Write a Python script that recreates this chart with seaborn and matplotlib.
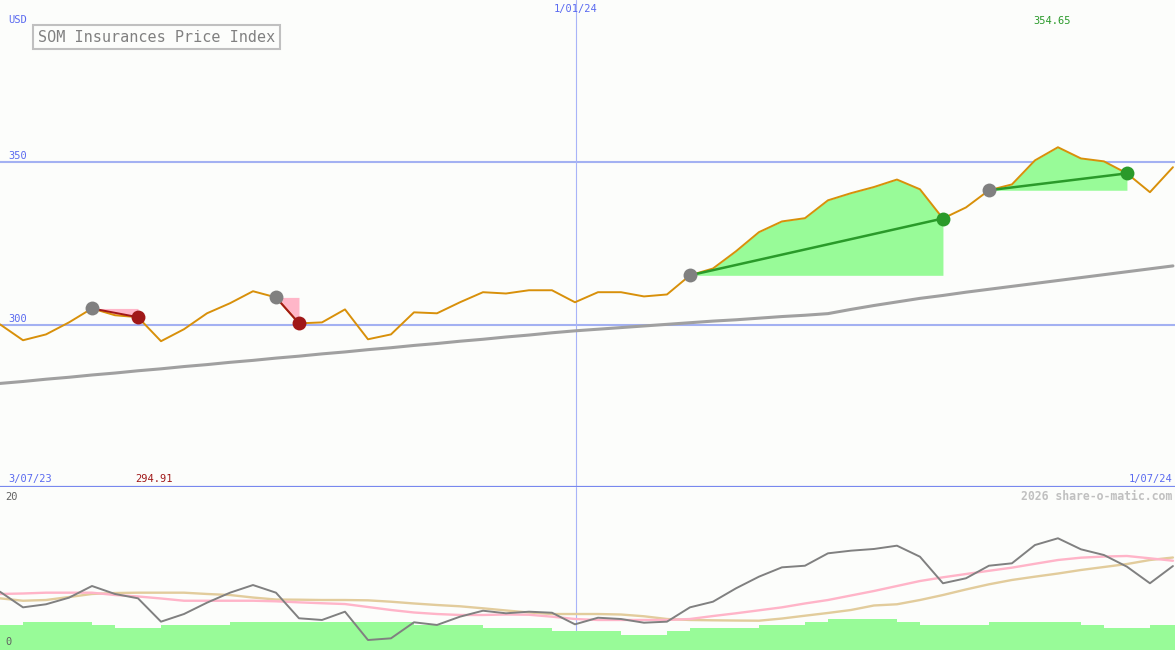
import numpy as np
import matplotlib
matplotlib.use("Agg")
import matplotlib.pyplot as plt
import seaborn as sns

# weekly closes, 3/07/23 .. 1/07/24
price = [300.1, 295.2, 297.0, 300.7, 305.0, 302.9, 302.3, 294.91, 298.6, 303.5,
         306.6, 310.3, 308.4, 300.4, 300.7, 304.7, 295.5, 297.0, 303.8, 303.5,
         306.9, 310.0, 309.6, 310.6, 310.6, 306.9, 310.0, 310.0, 308.7, 309.3,
         315.2, 317.3, 322.6, 328.5, 331.8, 332.8, 338.3, 340.5, 342.4, 344.7,
         341.7, 332.7, 336.1, 341.4, 343.2, 350.6, 354.65, 351.2, 350.3, 346.6,
         340.8, 348.5]

# long moving average (grey)
trend = [281.9, 282.5, 283.2, 283.8, 284.5, 285.1, 285.8, 286.4, 287.1, 287.7,
         288.4, 289.0, 289.7, 290.3, 291.0, 291.6, 292.3, 292.9, 293.6, 294.2,
         294.9, 295.5, 296.2, 296.8, 297.5, 298.1, 298.6, 299.1, 299.6, 300.1,
         300.6, 301.1, 301.5, 302.0, 302.5, 302.9, 303.4, 304.7, 305.9, 307.0,
         308.1, 309.0, 310.0, 310.9, 311.8, 312.7, 313.6, 314.5, 315.4, 316.3,
         317.2, 318.1]

# lower panel indicators
osc = [7.24, 5.30, 5.68, 6.50, 7.95, 6.96, 6.42, 3.52, 4.47, 5.88,
       7.12, 8.07, 7.12, 3.94, 3.73, 4.76, 1.24, 1.45, 3.44, 3.11,
       4.14, 4.88, 4.56, 4.76, 4.63, 3.19, 4.01, 3.85, 3.39, 3.52,
       5.30, 6.00, 7.66, 9.11, 10.27, 10.47, 12.01, 12.34, 12.55, 12.96,
       11.59, 8.29, 8.91, 10.47, 10.77, 13.04, 13.88, 12.51, 11.80, 10.35,
       8.29, 10.43]
osc_pink = [6.96, 7.02, 7.12, 7.12, 7.12, 6.83, 6.65, 6.40, 6.12, 6.12,
            6.12, 6.12, 6.05, 5.92, 5.81, 5.71, 5.34, 4.97, 4.66, 4.47,
            4.35, 4.35, 4.41, 4.38, 4.14, 3.85, 3.73, 3.73, 3.73, 3.73,
            3.85, 4.22, 4.56, 4.93, 5.30, 5.78, 6.21, 6.77, 7.33, 7.95,
            8.57, 9.03, 9.44, 9.84, 10.23, 10.71, 11.18, 11.47, 11.61, 11.68,
            11.39, 11.09]
osc_tan = [6.42, 6.12, 6.21, 6.58, 6.96, 7.08, 7.12, 7.12, 7.12, 6.96,
           6.83, 6.52, 6.27, 6.25, 6.21, 6.21, 6.17, 6.00, 5.78, 5.59,
           5.43, 5.18, 4.91, 4.66, 4.47, 4.47, 4.47, 4.41, 4.19, 3.85,
           3.73, 3.69, 3.66, 3.64, 3.91, 4.26, 4.60, 4.97, 5.53, 5.68,
           6.21, 6.83, 7.52, 8.16, 8.70, 9.11, 9.50, 9.94, 10.31, 10.68,
           11.18, 11.49]
vol = [3.11, 3.52, 3.52, 3.52, 3.11, 2.77, 2.77, 3.11, 3.11, 3.11,
       3.52, 3.52, 3.52, 3.52, 3.52, 3.52, 3.52, 3.52, 3.11, 3.11,
       3.11, 2.77, 2.77, 2.77, 2.36, 2.36, 2.36, 1.86, 1.86, 2.36,
       2.77, 2.77, 2.77, 3.11, 3.11, 3.52, 3.85, 3.85, 3.85, 3.52,
       3.11, 3.11, 3.11, 3.52, 3.52, 3.52, 3.52, 3.11, 2.77, 2.77,
       3.11, 3.11]

# (start week, end week, direction)
signals = [(4, 6, "down"), (12, 13, "down"), (30, 41, "up"), (43, 49, "up")]
new_year_week = 25.04
x_span = 51.09

weeks = np.arange(len(price))

W, H = 1175, 650
BG = "#FCFDFB"
BLUE = "#5A6AF0"
GRID = "#A3B1F2"
ORANGE = "#D8900A"
GREEN = "#2A9A2A"
RED = "#A01818"

sns.set_theme(style="white")
plt.rcParams["font.family"] = ["DejaVu Sans Mono", "DejaVu Sans"]

fig = plt.figure(figsize=(W / 100, H / 100), dpi=100, facecolor=BG)
ax = fig.add_axes([0, 163 / H, 1, 487 / H])
ax2 = fig.add_axes([0, 0, 1, 163 / H])
for a in (ax, ax2):
    a.set_facecolor(BG)
    a.set_xticks([])
    a.set_yticks([])
    for s in a.spines.values():
        s.set_visible(False)
    a.set_xlim(0, x_span)
ax.set_ylim(250, 400)
ax2.set_ylim(0, 20.25)

# --- price panel
for lvl in (300, 350):
    ax.axhline(lvl, color=GRID, lw=1.5, zorder=1)
ax.axvline(new_year_week, color="#A8B4F8", lw=0.8, zorder=1)
ax.axhline(250, color="#7888EE", lw=1.6, zorder=5, clip_on=False)

for s, e, kind in signals:
    xs = weeks[s:e + 1]
    ys = np.array(price[s:e + 1])
    fill_c = "#98FB98" if kind == "up" else "#FFB6C8"
    ax.fill_between(xs, ys, price[s], color=fill_c, lw=0, zorder=2)

sns.lineplot(x=weeks, y=trend, ax=ax, color="#A0A0A0", lw=2.2, zorder=3)
sns.lineplot(x=weeks, y=price, ax=ax, color=ORANGE, lw=1.4, zorder=4)

for s, e, kind in signals:
    c = GREEN if kind == "up" else RED
    ax.plot([s, e], [price[s], price[e]], color=c, lw=1.8 if kind == "up" else 1.4, zorder=5)
    ax.scatter([s], [price[s]], s=100, color="#808080", lw=0, zorder=6)
    ax.scatter([e], [price[e]], s=100, color=c, lw=0, zorder=6)

# --- indicator panel
ax2.axvline(new_year_week, color="#A8B4F8", lw=0.8, zorder=1)
ax2.bar(weeks, vol, width=1, align="edge", color="#98FB98", lw=0, zorder=2)
sns.lineplot(x=weeks, y=osc_tan, ax=ax2, color="#E2CC9C", lw=1.7, zorder=3)
sns.lineplot(x=weeks, y=osc_pink, ax=ax2, color="#FFB4C8", lw=1.7, zorder=3)
sns.lineplot(x=weeks, y=osc, ax=ax2, color="#808080", lw=1.4, zorder=4)


def px(x, y):
    return x / W, 1 - y / H


fs = 7.5
fig.text(*px(8, 20), "USD", color=BLUE, fontsize=fs, va="center", ha="left")
fig.text(*px(8, 156), "350", color=BLUE, fontsize=fs, va="center", ha="left")
fig.text(*px(8, 319), "300", color=BLUE, fontsize=fs, va="center", ha="left")
fig.text(*px(576, 9), "1/01/24", color=BLUE, fontsize=fs, va="center", ha="center")
fig.text(*px(1052, 21), "354.65", color=GREEN, fontsize=fs, va="center", ha="center")
fig.text(*px(8, 479), "3/07/23", color=BLUE, fontsize=fs, va="center", ha="left")
fig.text(*px(154, 479), "294.91", color=RED, fontsize=fs, va="center", ha="center")
fig.text(*px(1172, 479), "1/07/24", color=BLUE, fontsize=fs, va="center", ha="right")
fig.text(*px(5, 497), "20", color="#606060", fontsize=fs, va="center", ha="left")
fig.text(*px(5, 642), "0", color="#606060", fontsize=fs, va="center", ha="left")
fig.text(*px(1172, 497), "2026 share-o-matic.com", color="#C0C0C0", fontsize=8.3,
         fontweight="bold", va="center", ha="right")
fig.text(*px(38, 37), "SOM Insurances Price Index", color="#808080", fontsize=10.9,
         va="center", ha="left",
         bbox=dict(boxstyle="square,pad=0.3", fc=BG, ec="#C0C0C0", lw=1.5))

fig.savefig("out.png", dpi=100, facecolor=BG)
